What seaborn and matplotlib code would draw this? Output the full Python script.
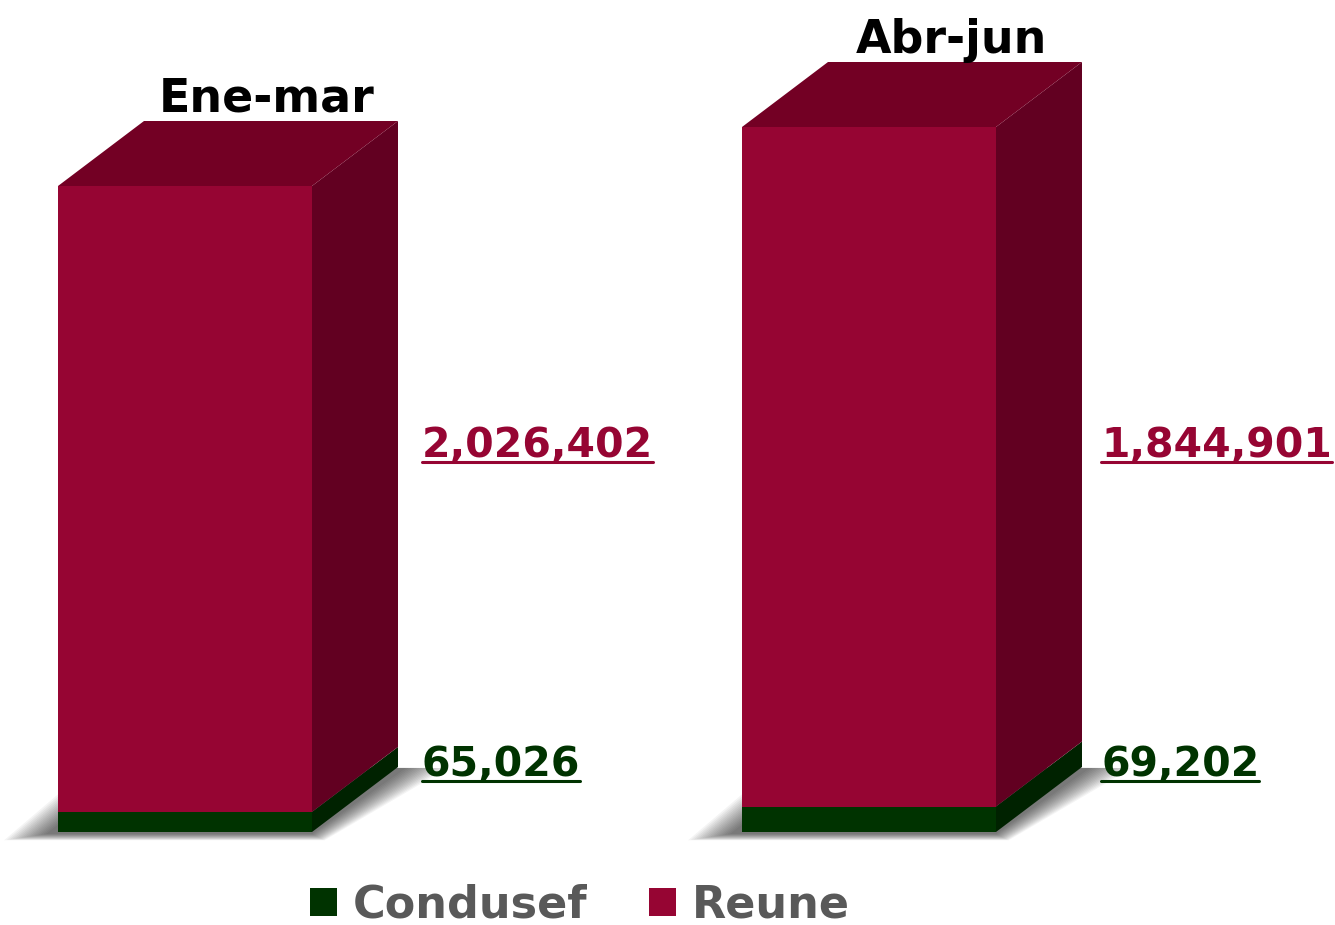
import numpy as np
import pandas as pd
import matplotlib
matplotlib.use("Agg")
import matplotlib.pyplot as plt
import seaborn as sns
from matplotlib.patches import Polygon, Patch
from matplotlib.transforms import IdentityTransform
from matplotlib.lines import Line2D

# ---- data ----
periods = ["Ene-mar", "Abr-jun"]
series = ["Condusef", "Reune"]
condusef = [65026, 69202]
reune = [2026402, 1844901]

# ---- style ----
GREEN, GREEN_SIDE = "#003300", "#002200"
RED, RED_TOP, RED_SIDE = "#960533", "#730024", "#620021"
GRAY_TXT = "#595959"

sns.set_theme(style="white")
plt.rcParams["font.family"] = ["DejaVu Sans"]

W, H = 1335, 925
fig = plt.figure(figsize=(W / 100, H / 100), dpi=100)
fig.patch.set_facecolor("white")

front_left = [58, 742]
front_width = 254
base_y = 832
front_top = [186, 127]
DX, DY = 86, 65
label_gap = [24, 19]
reune_baseline = H - 457
cond_baseline = H - 776

ID = IdentityTransform()


def fmt(v):
    return f"{v:,}"


for i, period in enumerate(periods):
    ax = fig.add_axes([front_left[i] / W, (H - base_y) / H, front_width / W, base_y / H])
    total = condusef[i] + reune[i]
    df = pd.DataFrame({"period": [period], "total": [total], "condusef": [condusef[i]]})
    sns.barplot(data=df, x="period", y="total", color=RED, saturation=1, width=0.8, ax=ax,
                zorder=2, edgecolor="none", linewidth=0)
    sns.barplot(data=df, x="period", y="condusef", color=GREEN, saturation=1, width=0.8, ax=ax,
                zorder=3, edgecolor="none", linewidth=0)
    frac = (base_y - front_top[i]) / base_y
    ax.set_xlim(-0.4, 0.4)
    ax.set_ylim(0, total / frac)
    ax.axis("off")

    tr = ax.transData
    xl, yb = tr.transform((-0.4, 0))
    xr, yc = tr.transform((0.4, condusef[i]))
    _, yt = tr.transform((0.4, total))

    # soft shadow under footprint
    for k in range(16):
        e = k * 2.8
        verts = [
            (xl - 12 - e, yb - 2 - e * 0.15),
            (xr + e * 0.3, yb - 2 - e * 0.15),
            (xr + DX + 8 + e, yb + DY - 1),
            (xl + DX - 12 - e, yb + DY),
        ]
        fig.add_artist(Polygon(verts, closed=True, transform=ID, facecolor="black",
                               edgecolor="none", alpha=0.045, zorder=-5))

    # side faces
    fig.add_artist(Polygon([(xr, yb), (xr + DX, yb + DY), (xr + DX, yc + DY), (xr, yc)],
                           closed=True, transform=ID, facecolor=GREEN_SIDE, edgecolor="none", zorder=3))
    fig.add_artist(Polygon([(xr, yc), (xr + DX, yc + DY), (xr + DX, yt + DY), (xr, yt)],
                           closed=True, transform=ID, facecolor=RED_SIDE, edgecolor="none", zorder=3))
    # top face
    fig.add_artist(Polygon([(xl, yt), (xr, yt), (xr + DX, yt + DY), (xl + DX, yt + DY)],
                           closed=True, transform=ID, facecolor=RED_TOP, edgecolor="none", zorder=3))

    # period title
    fig.text(xl + DX + (xr - xl) / 2 - 4, yt + DY + 9, period, transform=ID, ha="center",
             va="baseline", fontsize=33, fontweight="bold", color="black")

    # value labels with underline
    lx = xr + DX + label_gap[i]
    for val, base, col in [(reune[i], reune_baseline, RED), (condusef[i], cond_baseline, GREEN)]:
        t = fig.text(lx, base, fmt(val), transform=ID, ha="left", va="baseline",
                     fontsize=29.5, fontweight="bold", color=col)
        t._ul = (lx, base, col)

fig.canvas.draw()
renderer = fig.canvas.get_renderer()
for t in list(fig.texts):
    if hasattr(t, "_ul"):
        lx, base, col = t._ul
        bb = t.get_window_extent(renderer)
        fig.add_artist(Line2D([bb.x0, bb.x1], [base - 5, base - 5], transform=ID,
                              color=col, linewidth=2.2))

handles = [Patch(facecolor=GREEN, edgecolor="none"), Patch(facecolor=RED, edgecolor="none")]
fig.legend(handles, series, loc="center", bbox_to_anchor=(580 / W, (H - 905) / H), ncol=2,
           frameon=False, prop={"weight": "bold", "size": 32}, labelcolor=GRAY_TXT,
           handlelength=0.6, handleheight=0.6, handletextpad=0.35, columnspacing=1.4)

fig.savefig("out.png", dpi=100, facecolor="white")
